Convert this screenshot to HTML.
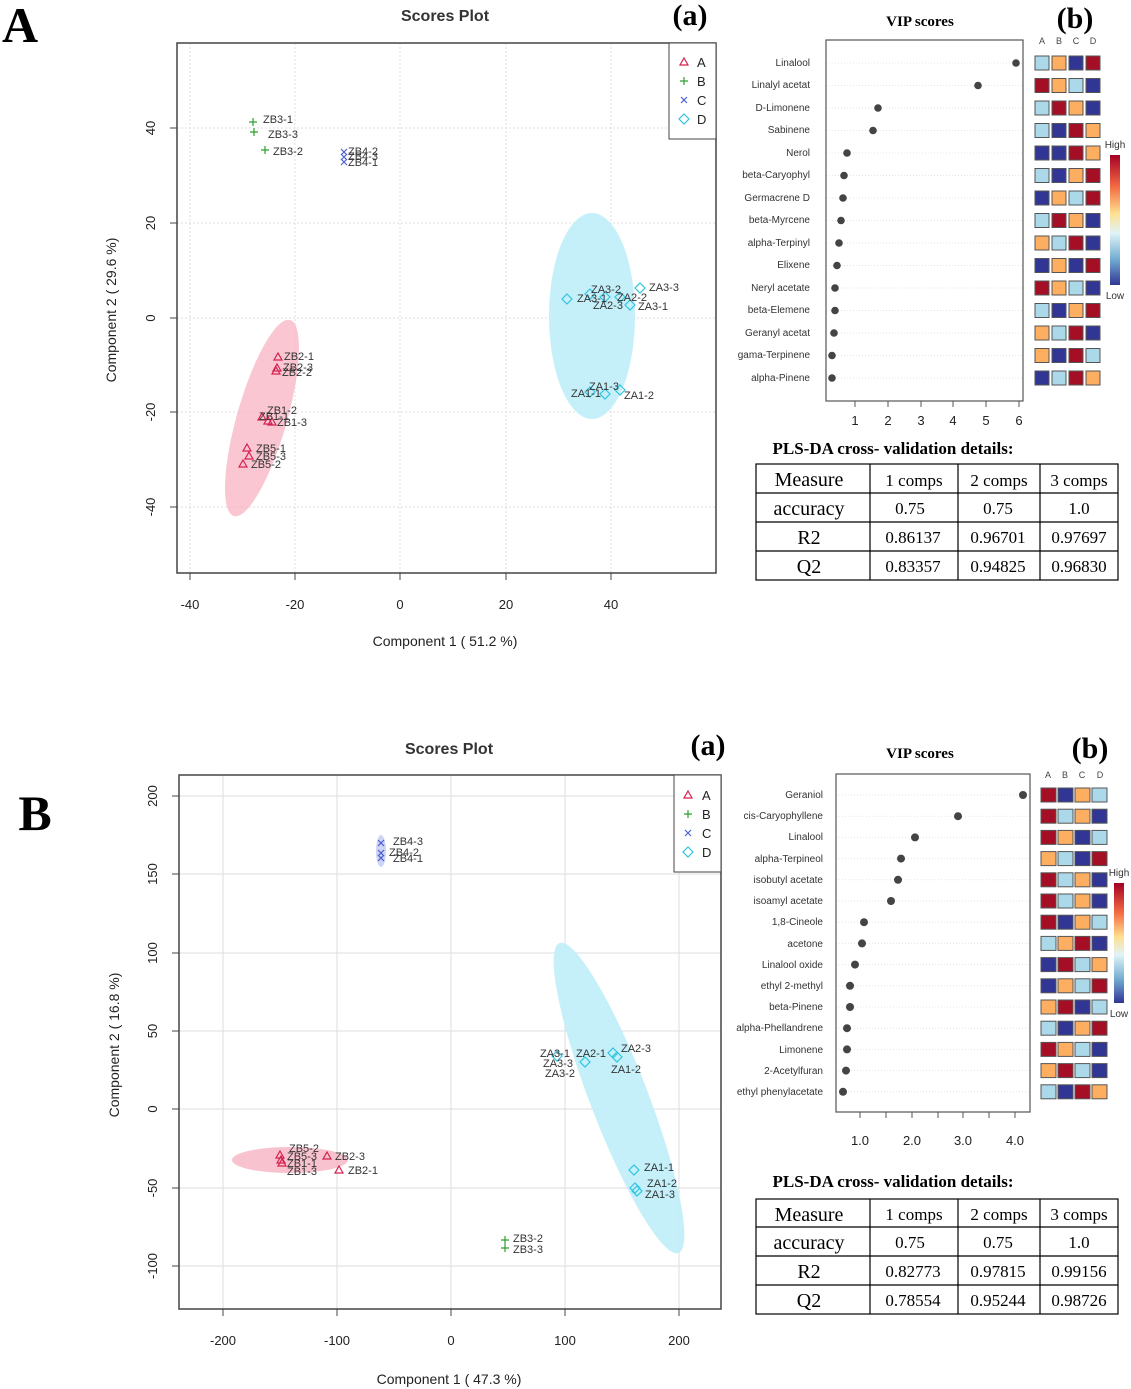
<!DOCTYPE html>
<html><head><meta charset="utf-8"><style>
html,body{margin:0;padding:0;background:#fff;}
svg{display:block;font-family:"Liberation Sans",sans-serif;}
.s{font-family:"Liberation Serif",serif;}
.g{stroke:#ddd;stroke-width:1;stroke-dasharray:2,2;}
.lb{font-size:11px;fill:#333;}
.tk{font-size:13px;fill:#222;}
.v{font-size:10px;fill:#333;text-anchor:end;}
.R{fill:#a50f26}.B{fill:#313695}.O{fill:#fdae61}.L{fill:#abd9e9}
.hc rect{stroke:#555;stroke-width:1}
td{border:1px solid #000;}
</style></head><body>
<svg width="1131" height="1389" viewBox="0 0 1131 1389">
<defs><linearGradient id="hl" x1="0" y1="0" x2="0" y2="1">
<stop offset="0" stop-color="#a50026"/><stop offset="0.25" stop-color="#f46d43"/><stop offset="0.45" stop-color="#fee090"/><stop offset="0.6" stop-color="#e0f3f8"/><stop offset="0.8" stop-color="#74add1"/><stop offset="1" stop-color="#313695"/></linearGradient></defs>

<!-- ===== PANEL A ===== -->
<text x="2" y="42" class="s" font-size="50" font-weight="bold">A</text>
<text x="445" y="21" font-size="16" font-weight="bold" text-anchor="middle" fill="#333">Scores Plot</text>
<text x="690" y="25" class="s" font-size="30" font-weight="bold" text-anchor="middle">(a)</text>
<g>
<line class="g" x1="190" y1="43" x2="190" y2="573"/><line class="g" x1="295" y1="43" x2="295" y2="573"/><line class="g" x1="400" y1="43" x2="400" y2="573"/><line class="g" x1="506" y1="43" x2="506" y2="573"/><line class="g" x1="611" y1="43" x2="611" y2="573"/>
<line class="g" x1="177" y1="128" x2="716" y2="128"/><line class="g" x1="177" y1="223" x2="716" y2="223"/><line class="g" x1="177" y1="318" x2="716" y2="318"/><line class="g" x1="177" y1="412" x2="716" y2="412"/><line class="g" x1="177" y1="507" x2="716" y2="507"/>
</g>
<ellipse cx="262" cy="418" rx="25" ry="102" fill="#f7b8c6" opacity="0.8" transform="rotate(16 262 418)"/>
<ellipse cx="592" cy="316" rx="43" ry="103" fill="#bfeef8" opacity="0.9"/>
<rect x="177" y="43" width="539" height="530" fill="none" stroke="#444" stroke-width="1.5"/>
<g stroke="#444">
<line x1="190" y1="573" x2="190" y2="580"/><line x1="295" y1="573" x2="295" y2="580"/><line x1="400" y1="573" x2="400" y2="580"/><line x1="506" y1="573" x2="506" y2="580"/><line x1="611" y1="573" x2="611" y2="580"/>
<line x1="170" y1="128" x2="177" y2="128"/><line x1="170" y1="223" x2="177" y2="223"/><line x1="170" y1="318" x2="177" y2="318"/><line x1="170" y1="412" x2="177" y2="412"/><line x1="170" y1="507" x2="177" y2="507"/>
</g>
<g class="tk" text-anchor="middle">
<text x="190" y="609">-40</text><text x="295" y="609">-20</text><text x="400" y="609">0</text><text x="506" y="609">20</text><text x="611" y="609">40</text>
<text transform="translate(155 128) rotate(-90)">40</text><text transform="translate(155 223) rotate(-90)">20</text><text transform="translate(155 318) rotate(-90)">0</text><text transform="translate(155 412) rotate(-90)">-20</text><text transform="translate(155 507) rotate(-90)">-40</text>
<text x="445" y="646" font-size="14">Component 1 ( 51.2 %)</text>
<text transform="translate(116 310) rotate(-90)" font-size="14">Component 2 ( 29.6 %)</text>
</g>
<!-- points A -->
<g fill="none" stroke-width="1.2">
<g stroke="#2ca02c"><path d="M249 122h8M253 118v8M250 132h8M254 128v8M261 150h8M265 146v8"/></g>
<g stroke="#4b5fd1"><path d="M341 149l6 6M347 149l-6 6M341 154l6 6M347 154l-6 6M341 159l6 6M347 159l-6 6"/></g>
<g stroke="#2fc4e0"><path d="M567 294l5 5-5 5-5-5zM590 289l5 5-5 5-5-5zM605 292l5 5-5 5-5-5zM620 292l5 5-5 5-5-5zM630 300l5 5-5 5-5-5zM640 283l5 5-5 5-5-5zM590 387l5 5-5 5-5-5zM605 389l5 5-5 5-5-5zM620 385l5 5-5 5-5-5z"/></g>
<g stroke="#d6204f"><path d="M278 353l4 7h-8zM277 364l4 7h-8zM276 367l4 7h-8zM262 413l4 7h-8zM268 417l4 7h-8zM272 418l4 7h-8zM247 444l4 7h-8zM249 452l4 7h-8zM243 460l4 7h-8z"/></g>
</g>
<g class="lb">
<text x="263" y="123">ZB3-1</text><text x="268" y="138">ZB3-3</text><text x="273" y="155">ZB3-2</text>
<text x="348" y="155">ZB4-2</text><text x="348" y="160">ZB4-3</text><text x="348" y="166">ZB4-1</text>
<text x="591" y="293">ZA3-2</text><text x="577" y="302">ZA3-1</text><text x="617" y="301">ZA2-2</text><text x="593" y="309">ZA2-3</text><text x="638" y="310">ZA3-1</text><text x="649" y="291">ZA3-3</text>
<text x="589" y="390">ZA1-3</text><text x="571" y="397">ZA1-1</text><text x="624" y="399">ZA1-2</text>
<text x="284" y="360">ZB2-1</text><text x="283" y="371">ZB2-3</text><text x="282" y="376">ZB2-2</text>
<text x="267" y="414">ZB1-2</text><text x="259" y="420">ZB1-1</text><text x="277" y="426">ZB1-3</text>
<text x="256" y="452">ZB5-1</text><text x="256" y="460">ZB5-3</text><text x="251" y="468">ZB5-2</text>
</g>
<rect x="669" y="43" width="47" height="96" fill="#fff" stroke="#444"/>
<g fill="none" stroke-width="1.2">
<path d="M684 58l4 7h-8z" stroke="#d6204f"/><path d="M680 81h8M684 77v8" stroke="#2ca02c"/><path d="M681 97l6 6M687 97l-6 6" stroke="#4b5fd1"/><path d="M684 114l5 5-5 5-5-5z" stroke="#2fc4e0"/>
</g>
<g font-size="13" fill="#222"><text x="697" y="67">A</text><text x="697" y="86">B</text><text x="697" y="105">C</text><text x="697" y="124">D</text></g>

<!-- VIP A -->
<text x="920" y="26" class="s" font-size="15" font-weight="bold" text-anchor="middle">VIP scores</text>
<text x="1075" y="28" class="s" font-size="30" font-weight="bold" text-anchor="middle">(b)</text>
<g stroke="#e4e4e4" stroke-dasharray="1,2">
<line x1="826" y1="63" x2="1023" y2="63"/><line x1="826" y1="85.5" x2="1023" y2="85.5"/><line x1="826" y1="108" x2="1023" y2="108"/><line x1="826" y1="130.5" x2="1023" y2="130.5"/><line x1="826" y1="153" x2="1023" y2="153"/><line x1="826" y1="175.5" x2="1023" y2="175.5"/><line x1="826" y1="198" x2="1023" y2="198"/><line x1="826" y1="220.5" x2="1023" y2="220.5"/><line x1="826" y1="243" x2="1023" y2="243"/><line x1="826" y1="265.5" x2="1023" y2="265.5"/><line x1="826" y1="288" x2="1023" y2="288"/><line x1="826" y1="310.5" x2="1023" y2="310.5"/><line x1="826" y1="333" x2="1023" y2="333"/><line x1="826" y1="355.5" x2="1023" y2="355.5"/><line x1="826" y1="378" x2="1023" y2="378"/>
</g>
<rect x="826" y="40" width="197" height="361" fill="none" stroke="#555" stroke-width="1.2"/>
<g fill="#444">
<circle cx="1016" cy="63" r="3.8"/><circle cx="978" cy="85.5" r="3.8"/><circle cx="878" cy="108" r="3.8"/><circle cx="873" cy="130.5" r="3.8"/><circle cx="847" cy="153" r="3.8"/><circle cx="844" cy="175.5" r="3.8"/><circle cx="843" cy="198" r="3.8"/><circle cx="841" cy="220.5" r="3.8"/><circle cx="839" cy="243" r="3.8"/><circle cx="837" cy="265.5" r="3.8"/><circle cx="835" cy="288" r="3.8"/><circle cx="835" cy="310.5" r="3.8"/><circle cx="834" cy="333" r="3.8"/><circle cx="832" cy="355.5" r="3.8"/><circle cx="832" cy="378" r="3.8"/>
</g>
<g class="v">
<text x="810" y="66">Linalool</text><text x="810" y="88">Linalyl acetat</text><text x="810" y="111">D-Limonene</text><text x="810" y="133">Sabinene</text><text x="810" y="156">Nerol</text><text x="810" y="178">beta-Caryophyl</text><text x="810" y="201">Germacrene D</text><text x="810" y="223">beta-Myrcene</text><text x="810" y="246">alpha-Terpinyl</text><text x="810" y="268">Elixene</text><text x="810" y="291">Neryl acetate</text><text x="810" y="313">beta-Elemene</text><text x="810" y="336">Geranyl acetat</text><text x="810" y="358">gama-Terpinene</text><text x="810" y="381">alpha-Pinene</text>
</g>
<g stroke="#555"><line x1="855" y1="401" x2="855" y2="407"/><line x1="888" y1="401" x2="888" y2="407"/><line x1="921" y1="401" x2="921" y2="407"/><line x1="953" y1="401" x2="953" y2="407"/><line x1="986" y1="401" x2="986" y2="407"/><line x1="1019" y1="401" x2="1019" y2="407"/></g>
<g font-size="13" text-anchor="middle" fill="#222"><text x="855" y="425">1</text><text x="888" y="425">2</text><text x="921" y="425">3</text><text x="953" y="425">4</text><text x="986" y="425">5</text><text x="1019" y="425">6</text></g>
<g font-size="9" fill="#444" text-anchor="middle"><text x="1042" y="44">A</text><text x="1059" y="44">B</text><text x="1076" y="44">C</text><text x="1093" y="44">D</text></g>
<g class="hc">
<rect class="L" x="1035" y="56" width="14" height="14"/><rect class="O" x="1052" y="56" width="14" height="14"/><rect class="B" x="1069" y="56" width="14" height="14"/><rect class="R" x="1086" y="56" width="14" height="14"/>
<rect class="R" x="1035" y="78.5" width="14" height="14"/><rect class="O" x="1052" y="78.5" width="14" height="14"/><rect class="L" x="1069" y="78.5" width="14" height="14"/><rect class="B" x="1086" y="78.5" width="14" height="14"/>
<rect class="L" x="1035" y="101" width="14" height="14"/><rect class="R" x="1052" y="101" width="14" height="14"/><rect class="O" x="1069" y="101" width="14" height="14"/><rect class="B" x="1086" y="101" width="14" height="14"/>
<rect class="L" x="1035" y="123.5" width="14" height="14"/><rect class="B" x="1052" y="123.5" width="14" height="14"/><rect class="R" x="1069" y="123.5" width="14" height="14"/><rect class="O" x="1086" y="123.5" width="14" height="14"/>
<rect class="B" x="1035" y="146" width="14" height="14"/><rect class="B" x="1052" y="146" width="14" height="14"/><rect class="R" x="1069" y="146" width="14" height="14"/><rect class="O" x="1086" y="146" width="14" height="14"/>
<rect class="L" x="1035" y="168.5" width="14" height="14"/><rect class="B" x="1052" y="168.5" width="14" height="14"/><rect class="O" x="1069" y="168.5" width="14" height="14"/><rect class="R" x="1086" y="168.5" width="14" height="14"/>
<rect class="B" x="1035" y="191" width="14" height="14"/><rect class="O" x="1052" y="191" width="14" height="14"/><rect class="L" x="1069" y="191" width="14" height="14"/><rect class="R" x="1086" y="191" width="14" height="14"/>
<rect class="L" x="1035" y="213.5" width="14" height="14"/><rect class="R" x="1052" y="213.5" width="14" height="14"/><rect class="O" x="1069" y="213.5" width="14" height="14"/><rect class="B" x="1086" y="213.5" width="14" height="14"/>
<rect class="O" x="1035" y="236" width="14" height="14"/><rect class="L" x="1052" y="236" width="14" height="14"/><rect class="R" x="1069" y="236" width="14" height="14"/><rect class="B" x="1086" y="236" width="14" height="14"/>
<rect class="B" x="1035" y="258.5" width="14" height="14"/><rect class="O" x="1052" y="258.5" width="14" height="14"/><rect class="B" x="1069" y="258.5" width="14" height="14"/><rect class="R" x="1086" y="258.5" width="14" height="14"/>
<rect class="R" x="1035" y="281" width="14" height="14"/><rect class="O" x="1052" y="281" width="14" height="14"/><rect class="L" x="1069" y="281" width="14" height="14"/><rect class="B" x="1086" y="281" width="14" height="14"/>
<rect class="L" x="1035" y="303.5" width="14" height="14"/><rect class="B" x="1052" y="303.5" width="14" height="14"/><rect class="O" x="1069" y="303.5" width="14" height="14"/><rect class="R" x="1086" y="303.5" width="14" height="14"/>
<rect class="O" x="1035" y="326" width="14" height="14"/><rect class="L" x="1052" y="326" width="14" height="14"/><rect class="R" x="1069" y="326" width="14" height="14"/><rect class="B" x="1086" y="326" width="14" height="14"/>
<rect class="O" x="1035" y="348.5" width="14" height="14"/><rect class="B" x="1052" y="348.5" width="14" height="14"/><rect class="R" x="1069" y="348.5" width="14" height="14"/><rect class="L" x="1086" y="348.5" width="14" height="14"/>
<rect class="B" x="1035" y="371" width="14" height="14"/><rect class="L" x="1052" y="371" width="14" height="14"/><rect class="R" x="1069" y="371" width="14" height="14"/><rect class="O" x="1086" y="371" width="14" height="14"/>
</g>
<rect x="1110" y="155" width="10" height="130" fill="url(#hl)"/>
<text x="1115" y="148" font-size="10" text-anchor="middle" fill="#333">High</text>
<text x="1115" y="299" font-size="10" text-anchor="middle" fill="#333">Low</text>

<!-- Table A -->
<text x="893" y="454" class="s" font-size="17" font-weight="bold" text-anchor="middle">PLS-DA cross- validation details:</text>
<g stroke="#000" stroke-width="1.2" fill="none">
<rect x="756" y="464" width="362" height="116"/>
<line x1="756" y1="493" x2="1118" y2="493"/><line x1="756" y1="522" x2="1118" y2="522"/><line x1="756" y1="551" x2="1118" y2="551"/>
<line x1="870" y1="464" x2="870" y2="580"/><line x1="958" y1="464" x2="958" y2="580"/><line x1="1040" y1="464" x2="1040" y2="580"/>
</g>
<g class="s" text-anchor="middle" fill="#000">
<text x="809" y="486" font-size="20">Measure</text><text x="914" y="486" font-size="17">1 comps</text><text x="999" y="486" font-size="17">2 comps</text><text x="1079" y="486" font-size="17">3 comps</text>
<text x="809" y="515" font-size="20">accuracy</text><text x="910" y="514" font-size="17">0.75</text><text x="998" y="514" font-size="17">0.75</text><text x="1079" y="514" font-size="17">1.0</text>
<text x="809" y="544" font-size="20">R2</text><text x="913" y="543" font-size="17">0.86137</text><text x="998" y="543" font-size="17">0.96701</text><text x="1079" y="543" font-size="17">0.97697</text>
<text x="809" y="573" font-size="20">Q2</text><text x="913" y="572" font-size="17">0.83357</text><text x="998" y="572" font-size="17">0.94825</text><text x="1079" y="572" font-size="17">0.96830</text>
</g>

<!-- ===== PANEL B ===== -->
<text x="35" y="830" class="s" font-size="50" font-weight="bold" text-anchor="middle">B</text>
<text x="449" y="754" font-size="16" font-weight="bold" text-anchor="middle" fill="#333">Scores Plot</text>
<text x="708" y="755" class="s" font-size="30" font-weight="bold" text-anchor="middle">(a)</text>
<g stroke="#ddd">
<line x1="223" y1="775" x2="223" y2="1309"/><line x1="337" y1="775" x2="337" y2="1309"/><line x1="451" y1="775" x2="451" y2="1309"/><line x1="565" y1="775" x2="565" y2="1309"/><line x1="679" y1="775" x2="679" y2="1309"/>
<line x1="179" y1="796" x2="721" y2="796"/><line x1="179" y1="874" x2="721" y2="874"/><line x1="179" y1="953" x2="721" y2="953"/><line x1="179" y1="1031" x2="721" y2="1031"/><line x1="179" y1="1109" x2="721" y2="1109"/><line x1="179" y1="1188" x2="721" y2="1188"/><line x1="179" y1="1266" x2="721" y2="1266"/>
</g>
<ellipse cx="290" cy="1160" rx="58" ry="13" fill="#f7b8c6" opacity="0.85"/>
<ellipse cx="381" cy="851" rx="5" ry="16" fill="#c9cff2" opacity="0.9"/>
<ellipse cx="619" cy="1098" rx="29" ry="166" fill="#bfeef8" opacity="0.9" transform="rotate(-21 619 1098)"/>
<rect x="179" y="775" width="542" height="534" fill="none" stroke="#444" stroke-width="1.5"/>
<g stroke="#444">
<line x1="223" y1="1309" x2="223" y2="1316"/><line x1="337" y1="1309" x2="337" y2="1316"/><line x1="451" y1="1309" x2="451" y2="1316"/><line x1="565" y1="1309" x2="565" y2="1316"/><line x1="679" y1="1309" x2="679" y2="1316"/>
<line x1="172" y1="796" x2="179" y2="796"/><line x1="172" y1="874" x2="179" y2="874"/><line x1="172" y1="953" x2="179" y2="953"/><line x1="172" y1="1031" x2="179" y2="1031"/><line x1="172" y1="1109" x2="179" y2="1109"/><line x1="172" y1="1188" x2="179" y2="1188"/><line x1="172" y1="1266" x2="179" y2="1266"/>
</g>
<g class="tk" text-anchor="middle">
<text x="223" y="1345">-200</text><text x="337" y="1345">-100</text><text x="451" y="1345">0</text><text x="565" y="1345">100</text><text x="679" y="1345">200</text>
<text transform="translate(157 796) rotate(-90)">200</text><text transform="translate(157 874) rotate(-90)">150</text><text transform="translate(157 953) rotate(-90)">100</text><text transform="translate(157 1031) rotate(-90)">50</text><text transform="translate(157 1109) rotate(-90)">0</text><text transform="translate(157 1188) rotate(-90)">-50</text><text transform="translate(157 1266) rotate(-90)">-100</text>
<text x="449" y="1384" font-size="14">Component 1 ( 47.3 %)</text>
<text transform="translate(119 1045) rotate(-90)" font-size="14">Component 2 ( 16.8 %)</text>
</g>
<g fill="none" stroke-width="1.2">
<g stroke="#2ca02c"><path d="M501 1240h8M505 1236v8M501 1248h8M505 1244v8"/></g>
<g stroke="#4b5fd1"><path d="M378 840l6 6M384 840l-6 6M378 850l6 6M384 850l-6 6M378 855l6 6M384 855l-6 6"/></g>
<g stroke="#2fc4e0"><path d="M557 1051l5 5-5 5-5-5zM585 1057l5 5-5 5-5-5zM613 1048l5 5-5 5-5-5zM617 1052l5 5-5 5-5-5zM634 1165l5 5-5 5-5-5zM635 1183l5 5-5 5-5-5zM637 1186l5 5-5 5-5-5z"/></g>
<g stroke="#d6204f"><path d="M280 1151l4 7h-8zM281 1156l4 7h-8zM282 1159l4 7h-8zM327 1152l4 7h-8zM339 1166l4 7h-8z"/></g>
</g>
<g class="lb">
<text x="393" y="845">ZB4-3</text><text x="389" y="856">ZB4-2</text><text x="393" y="862">ZB4-1</text>
<text x="540" y="1057">ZA3-1</text><text x="576" y="1057">ZA2-1</text><text x="621" y="1052">ZA2-3</text><text x="543" y="1067">ZA3-3</text><text x="545" y="1077">ZA3-2</text><text x="611" y="1073">ZA1-2</text>
<text x="644" y="1171">ZA1-1</text><text x="647" y="1187">ZA1-2</text><text x="645" y="1198">ZA1-3</text>
<text x="513" y="1242">ZB3-2</text><text x="513" y="1253">ZB3-3</text>
<text x="289" y="1152">ZB5-2</text><text x="287" y="1160">ZB5-3</text><text x="287" y="1167">ZB1-1</text><text x="287" y="1175">ZB1-3</text><text x="335" y="1160">ZB2-3</text><text x="348" y="1174">ZB2-1</text>
</g>
<rect x="674" y="775" width="47" height="97" fill="#fff" stroke="#444"/>
<g fill="none" stroke-width="1.2">
<path d="M688 791l4 7h-8z" stroke="#d6204f"/><path d="M684 814h8M688 810v8" stroke="#2ca02c"/><path d="M685 830l6 6M691 830l-6 6" stroke="#4b5fd1"/><path d="M688 847l5 5-5 5-5-5z" stroke="#2fc4e0"/>
</g>
<g font-size="13" fill="#222"><text x="702" y="800">A</text><text x="702" y="819">B</text><text x="702" y="838">C</text><text x="702" y="857">D</text></g>

<!-- VIP B -->
<text x="920" y="758" class="s" font-size="15" font-weight="bold" text-anchor="middle">VIP scores</text>
<text x="1090" y="758" class="s" font-size="30" font-weight="bold" text-anchor="middle">(b)</text>
<g stroke="#e4e4e4" stroke-dasharray="1,2">
<line x1="836" y1="795" x2="1030" y2="795"/><line x1="836" y1="816.2" x2="1030" y2="816.2"/><line x1="836" y1="837.4" x2="1030" y2="837.4"/><line x1="836" y1="858.6" x2="1030" y2="858.6"/><line x1="836" y1="879.8" x2="1030" y2="879.8"/><line x1="836" y1="901" x2="1030" y2="901"/><line x1="836" y1="922.2" x2="1030" y2="922.2"/><line x1="836" y1="943.4" x2="1030" y2="943.4"/><line x1="836" y1="964.6" x2="1030" y2="964.6"/><line x1="836" y1="985.8" x2="1030" y2="985.8"/><line x1="836" y1="1007" x2="1030" y2="1007"/><line x1="836" y1="1028.2" x2="1030" y2="1028.2"/><line x1="836" y1="1049.4" x2="1030" y2="1049.4"/><line x1="836" y1="1070.6" x2="1030" y2="1070.6"/><line x1="836" y1="1091.8" x2="1030" y2="1091.8"/>
</g>
<rect x="836" y="774" width="194" height="338" fill="none" stroke="#555" stroke-width="1.2"/>
<g fill="#444">
<circle cx="1023" cy="795" r="4"/><circle cx="958" cy="816.2" r="4"/><circle cx="915" cy="837.4" r="4"/><circle cx="901" cy="858.6" r="4"/><circle cx="898" cy="879.8" r="4"/><circle cx="891" cy="901" r="4"/><circle cx="864" cy="922.2" r="4"/><circle cx="862" cy="943.4" r="4"/><circle cx="855" cy="964.6" r="4"/><circle cx="850" cy="985.8" r="4"/><circle cx="850" cy="1007" r="4"/><circle cx="847" cy="1028.2" r="4"/><circle cx="847" cy="1049.4" r="4"/><circle cx="846" cy="1070.6" r="4"/><circle cx="843" cy="1091.8" r="4"/>
</g>
<g class="v">
<text x="823" y="798">Geraniol</text><text x="823" y="819">cis-Caryophyllene</text><text x="823" y="840">Linalool</text><text x="823" y="862">alpha-Terpineol</text><text x="823" y="883">isobutyl acetate</text><text x="823" y="904">isoamyl acetate</text><text x="823" y="925">1,8-Cineole</text><text x="823" y="947">acetone</text><text x="823" y="968">Linalool oxide</text><text x="823" y="989">ethyl 2-methyl</text><text x="823" y="1010">beta-Pinene</text><text x="823" y="1031">alpha-Phellandrene</text><text x="823" y="1053">Limonene</text><text x="823" y="1074">2-Acetylfuran</text><text x="823" y="1095">ethyl phenylacetate</text>
</g>
<g stroke="#555"><line x1="860" y1="1112" x2="860" y2="1118"/><line x1="886" y1="1112" x2="886" y2="1118"/><line x1="912" y1="1112" x2="912" y2="1118"/><line x1="938" y1="1112" x2="938" y2="1118"/><line x1="963" y1="1112" x2="963" y2="1118"/><line x1="989" y1="1112" x2="989" y2="1118"/><line x1="1015" y1="1112" x2="1015" y2="1118"/></g>
<g font-size="13" text-anchor="middle" fill="#222"><text x="860" y="1145">1.0</text><text x="912" y="1145">2.0</text><text x="963" y="1145">3.0</text><text x="1015" y="1145">4.0</text></g>
<g font-size="9" fill="#444" text-anchor="middle"><text x="1048" y="778">A</text><text x="1065" y="778">B</text><text x="1082" y="778">C</text><text x="1100" y="778">D</text></g>
<g class="hc">
<rect class="R" x="1041" y="788" width="15" height="14"/><rect class="B" x="1058" y="788" width="15" height="14"/><rect class="O" x="1075" y="788" width="15" height="14"/><rect class="L" x="1092" y="788" width="15" height="14"/>
<rect class="R" x="1041" y="809.2" width="15" height="14"/><rect class="L" x="1058" y="809.2" width="15" height="14"/><rect class="O" x="1075" y="809.2" width="15" height="14"/><rect class="B" x="1092" y="809.2" width="15" height="14"/>
<rect class="R" x="1041" y="830.4" width="15" height="14"/><rect class="O" x="1058" y="830.4" width="15" height="14"/><rect class="B" x="1075" y="830.4" width="15" height="14"/><rect class="L" x="1092" y="830.4" width="15" height="14"/>
<rect class="O" x="1041" y="851.6" width="15" height="14"/><rect class="L" x="1058" y="851.6" width="15" height="14"/><rect class="B" x="1075" y="851.6" width="15" height="14"/><rect class="R" x="1092" y="851.6" width="15" height="14"/>
<rect class="R" x="1041" y="872.8" width="15" height="14"/><rect class="L" x="1058" y="872.8" width="15" height="14"/><rect class="O" x="1075" y="872.8" width="15" height="14"/><rect class="B" x="1092" y="872.8" width="15" height="14"/>
<rect class="R" x="1041" y="894" width="15" height="14"/><rect class="L" x="1058" y="894" width="15" height="14"/><rect class="O" x="1075" y="894" width="15" height="14"/><rect class="B" x="1092" y="894" width="15" height="14"/>
<rect class="R" x="1041" y="915.2" width="15" height="14"/><rect class="B" x="1058" y="915.2" width="15" height="14"/><rect class="O" x="1075" y="915.2" width="15" height="14"/><rect class="L" x="1092" y="915.2" width="15" height="14"/>
<rect class="L" x="1041" y="936.4" width="15" height="14"/><rect class="O" x="1058" y="936.4" width="15" height="14"/><rect class="R" x="1075" y="936.4" width="15" height="14"/><rect class="B" x="1092" y="936.4" width="15" height="14"/>
<rect class="B" x="1041" y="957.6" width="15" height="14"/><rect class="R" x="1058" y="957.6" width="15" height="14"/><rect class="L" x="1075" y="957.6" width="15" height="14"/><rect class="O" x="1092" y="957.6" width="15" height="14"/>
<rect class="B" x="1041" y="978.8" width="15" height="14"/><rect class="O" x="1058" y="978.8" width="15" height="14"/><rect class="L" x="1075" y="978.8" width="15" height="14"/><rect class="R" x="1092" y="978.8" width="15" height="14"/>
<rect class="O" x="1041" y="1000" width="15" height="14"/><rect class="R" x="1058" y="1000" width="15" height="14"/><rect class="B" x="1075" y="1000" width="15" height="14"/><rect class="L" x="1092" y="1000" width="15" height="14"/>
<rect class="L" x="1041" y="1021.2" width="15" height="14"/><rect class="B" x="1058" y="1021.2" width="15" height="14"/><rect class="O" x="1075" y="1021.2" width="15" height="14"/><rect class="R" x="1092" y="1021.2" width="15" height="14"/>
<rect class="R" x="1041" y="1042.4" width="15" height="14"/><rect class="O" x="1058" y="1042.4" width="15" height="14"/><rect class="L" x="1075" y="1042.4" width="15" height="14"/><rect class="B" x="1092" y="1042.4" width="15" height="14"/>
<rect class="O" x="1041" y="1063.6" width="15" height="14"/><rect class="R" x="1058" y="1063.6" width="15" height="14"/><rect class="L" x="1075" y="1063.6" width="15" height="14"/><rect class="B" x="1092" y="1063.6" width="15" height="14"/>
<rect class="L" x="1041" y="1084.8" width="15" height="14"/><rect class="B" x="1058" y="1084.8" width="15" height="14"/><rect class="R" x="1075" y="1084.8" width="15" height="14"/><rect class="O" x="1092" y="1084.8" width="15" height="14"/>
</g>
<rect x="1114" y="883" width="10" height="120" fill="url(#hl)"/>
<text x="1119" y="876" font-size="10" text-anchor="middle" fill="#333">High</text>
<text x="1119" y="1017" font-size="10" text-anchor="middle" fill="#333">Low</text>

<!-- Table B -->
<text x="893" y="1187" class="s" font-size="17" font-weight="bold" text-anchor="middle">PLS-DA cross- validation details:</text>
<g stroke="#000" stroke-width="1.2" fill="none">
<rect x="756" y="1199" width="362" height="115"/>
<line x1="756" y1="1227" x2="1118" y2="1227"/><line x1="756" y1="1256" x2="1118" y2="1256"/><line x1="756" y1="1285" x2="1118" y2="1285"/>
<line x1="870" y1="1199" x2="870" y2="1314"/><line x1="958" y1="1199" x2="958" y2="1314"/><line x1="1040" y1="1199" x2="1040" y2="1314"/>
</g>
<g class="s" text-anchor="middle" fill="#000">
<text x="809" y="1221" font-size="20">Measure</text><text x="914" y="1220" font-size="17">1 comps</text><text x="999" y="1220" font-size="17">2 comps</text><text x="1079" y="1220" font-size="17">3 comps</text>
<text x="809" y="1249" font-size="20">accuracy</text><text x="910" y="1248" font-size="17">0.75</text><text x="998" y="1248" font-size="17">0.75</text><text x="1079" y="1248" font-size="17">1.0</text>
<text x="809" y="1278" font-size="20">R2</text><text x="913" y="1277" font-size="17">0.82773</text><text x="998" y="1277" font-size="17">0.97815</text><text x="1079" y="1277" font-size="17">0.99156</text>
<text x="809" y="1307" font-size="20">Q2</text><text x="913" y="1306" font-size="17">0.78554</text><text x="998" y="1306" font-size="17">0.95244</text><text x="1079" y="1306" font-size="17">0.98726</text>
</g>
</svg>
</body></html>
